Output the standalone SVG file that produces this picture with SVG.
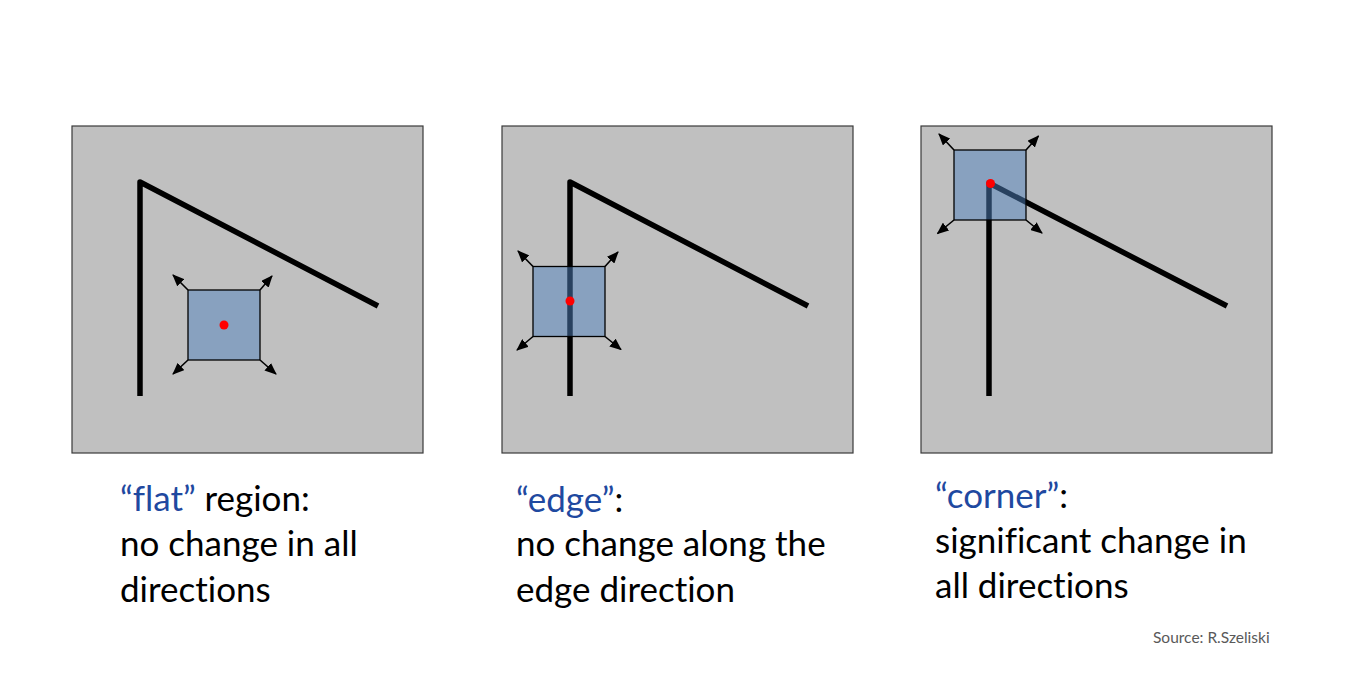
<svg xmlns="http://www.w3.org/2000/svg" width="1369" height="692" viewBox="0 0 1369 692">
<style>
.panel{fill:#c0c0c0;stroke:#3a3a3a;stroke-width:1.2}
.shape{fill:none;stroke:#000;stroke-width:5.5;stroke-linejoin:round}
.win{fill:#4f81bd;fill-opacity:0.5;stroke:#000;stroke-width:1.3}
.dot{fill:#ff0000}
.arr{stroke:#000;stroke-width:1.6;fill:none;marker-end:url(#ah)}
.t{font-family:Lato,"Open Sans","Liberation Sans",sans-serif;font-size:35px;fill:#000;font-variant-ligatures:none}
.b{fill:#1f49a0}
.src{font-family:Lato,"Open Sans","Liberation Sans",sans-serif;font-size:15.5px;fill:#595959}
</style>
<defs>
<marker id="ah" markerWidth="12" markerHeight="10" refX="11" refY="5" orient="auto" markerUnits="userSpaceOnUse">
<path d="M0,0 L12,5 L0,10 z" fill="#000"/>
</marker>
</defs>
<rect width="1369" height="692" fill="#fff"/>
<g id="flat">
<rect class="panel" x="72" y="126" width="351" height="327"/>
<path class="shape" d="M140,396 L140,182 L378,306"/>
<rect class="win" x="188" y="290" width="72" height="70"/>
<circle class="dot" cx="224" cy="325" r="4.5"/>
</g>
<g id="edge">
<rect class="panel" x="502" y="126" width="351" height="327"/>
<path class="shape" d="M570,396 L570,182 L808,306"/>
<rect class="win" x="533" y="266.5" width="72" height="70"/>
<circle class="dot" cx="570" cy="301" r="4.5"/>
</g>
<g id="corner">
<rect class="panel" x="921" y="126" width="351" height="327"/>
<path class="shape" d="M989,396 L989,183 L1227,306"/>
<rect class="win" x="954" y="150" width="72" height="70"/>
<circle class="dot" cx="990.5" cy="183.5" r="4.5"/>
</g>
<g id="connectors">
<line class="arr" x1="188" y1="290" x2="173" y2="275"/>
<line class="arr" x1="260" y1="290" x2="272" y2="276"/>
<line class="arr" x1="188" y1="360" x2="173" y2="374"/>
<line class="arr" x1="260" y1="360" x2="276" y2="374"/>
<line class="arr" x1="533" y1="266.5" x2="518" y2="251"/>
<line class="arr" x1="605" y1="266.5" x2="618" y2="252"/>
<line class="arr" x1="533" y1="336.5" x2="517" y2="350"/>
<line class="arr" x1="605" y1="336.5" x2="621" y2="349.5"/>
<line class="arr" x1="954" y1="150" x2="939" y2="134"/>
<line class="arr" x1="1026" y1="150" x2="1038.5" y2="136"/>
<line class="arr" x1="954" y1="220" x2="937.5" y2="233.5"/>
<line class="arr" x1="1026" y1="220" x2="1042" y2="233"/>
</g>
<g id="label-flat">
<text class="t" x="120" y="511"><tspan class="b">“flat”</tspan> region:</text>
<text class="t" x="120" y="556">no change in all</text>
<text class="t" x="120" y="601.5">directions</text>
</g>
<g id="label-edge">
<text class="t" x="516" y="511.5"><tspan class="b">“edge”</tspan>:</text>
<text class="t" x="516" y="556">no change along the</text>
<text class="t" x="516" y="601.5">edge direction</text>
</g>
<g id="label-corner">
<text class="t" x="935" y="507.5"><tspan class="b">“corner”</tspan>:</text>
<text class="t" x="935" y="553">significant change in</text>
<text class="t" x="935" y="598">all directions</text>
</g>
<text class="src" x="1153" y="643">Source: R.Szeliski</text>
</svg>
